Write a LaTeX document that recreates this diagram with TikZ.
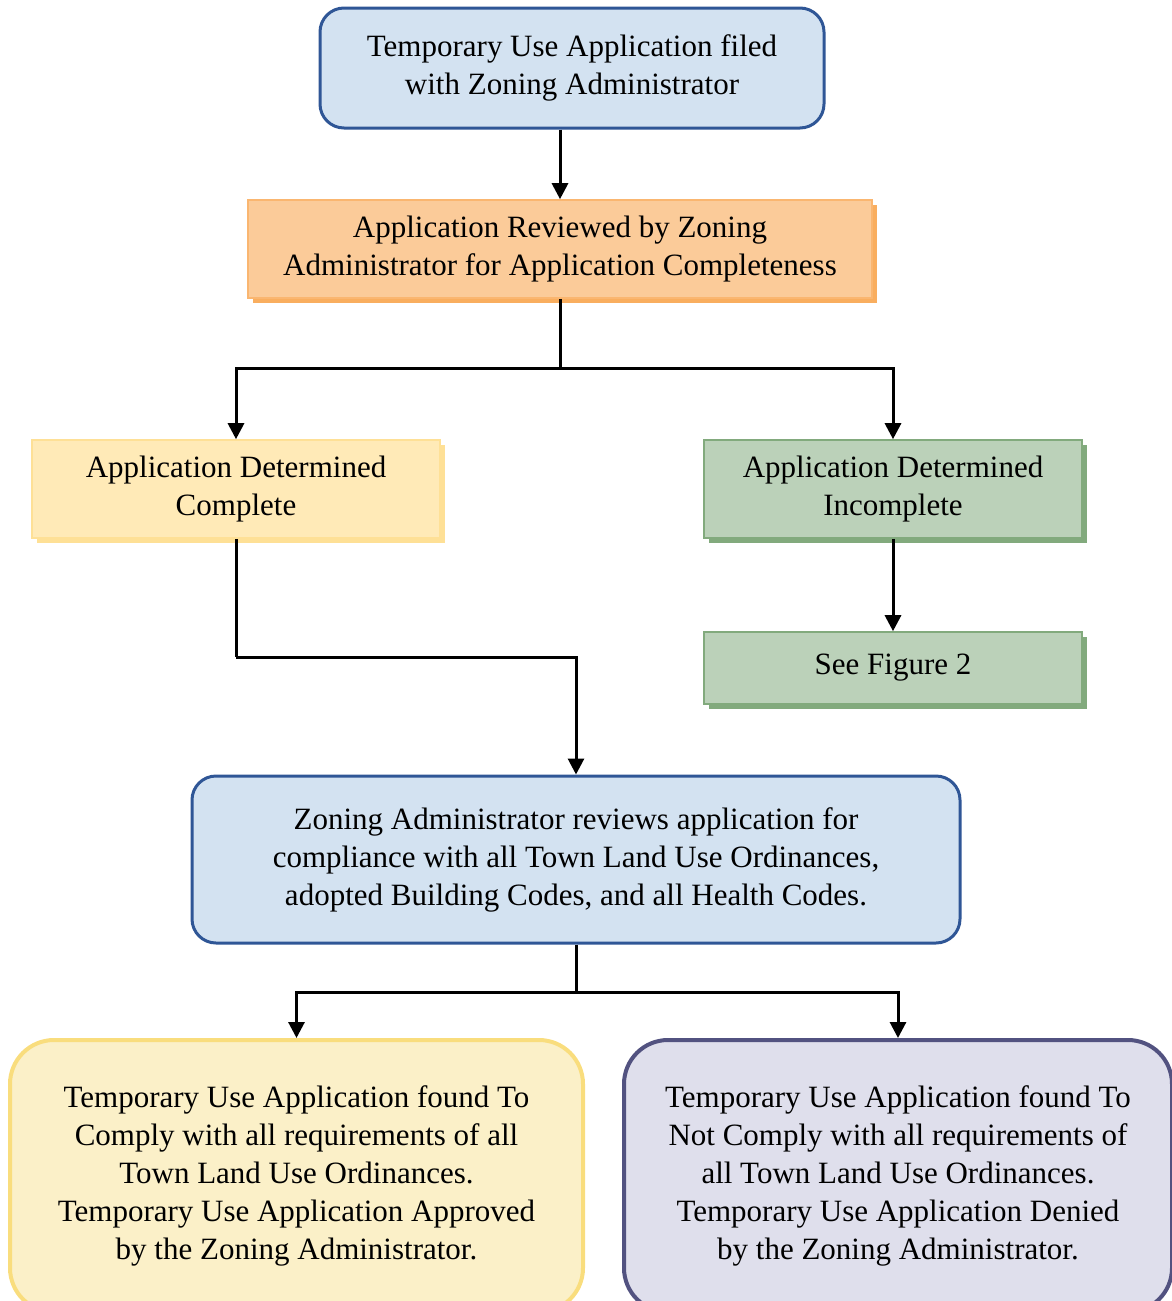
\documentclass[tikz,border=0pt]{standalone}
\usepackage{fontspec}
\setmainfont{Liberation Serif}
\usetikzlibrary{shadows,arrows.meta}

\definecolor{blueFill}{RGB}{211,226,241}
\definecolor{blueLine}{RGB}{47,86,150}
\definecolor{orangeFill}{RGB}{251,203,153}
\definecolor{orangeLine}{RGB}{250,182,112}
\definecolor{orangeShadow}{RGB}{249,174,95}
\definecolor{yellowFill}{RGB}{255,234,183}
\definecolor{yellowShadow}{RGB}{254,224,150}
\definecolor{greenFill}{RGB}{187,209,185}
\definecolor{greenShadow}{RGB}{130,170,125}
\definecolor{creamFill}{RGB}{251,240,200}
\definecolor{creamLine}{RGB}{249,221,125}
\definecolor{lavFill}{RGB}{223,223,236}
\definecolor{lavLine}{RGB}{82,82,128}

\tikzstyle{roundbox} = [draw, rounded corners=12pt, line width=1.5pt, align=center, text centered]
\tikzstyle{flatbox} = [draw, line width=0.8pt, align=center, text centered]
\tikzstyle{bluebox} = [roundbox, draw=blueLine, fill=blueFill]
\tikzstyle{orangebox} = [flatbox, draw=orangeLine, fill=orangeFill, drop shadow={shadow xshift=2.5pt, shadow yshift=-2.5pt, fill=orangeShadow, opacity=1}]
\tikzstyle{yellowbox} = [flatbox, draw=yellowShadow, fill=yellowFill, drop shadow={shadow xshift=2.5pt, shadow yshift=-2.5pt, fill=yellowShadow, opacity=1}]
\tikzstyle{greenbox} = [flatbox, draw=greenShadow, fill=greenFill, drop shadow={shadow xshift=2.5pt, shadow yshift=-2.5pt, fill=greenShadow, opacity=1}]
\tikzstyle{creambox} = [roundbox, rounded corners=22pt, line width=2pt, draw=creamLine, fill=creamFill]
\tikzstyle{lavbox} = [roundbox, rounded corners=22pt, line width=2pt, draw=lavLine, fill=lavFill]
\tikzstyle{line} = [line width=1.5pt]
\tikzstyle{arrow} = [line, -{Triangle[length=8pt, width=8pt]}]

\begin{document}
\begin{tikzpicture}[x=0.5pt, y=-0.5pt, font=\fontsize{15.5}{19}\selectfont]
\useasboundingbox (0,0) rectangle (1172,1301);
\clip (0,0) rectangle (1172,1301);

% Filing and completeness review
\node (filed) [bluebox, minimum width=252pt, minimum height=60pt] at (572,68) {Temporary Use Application filed\\with Zoning Administrator};
\node (reviewed) [orangebox, minimum width=312pt, minimum height=49pt] at (560,249) {Application Reviewed by Zoning\\Administrator for Application Completeness};

% Completeness outcome
\node (complete) [yellowbox, minimum width=204pt, minimum height=49pt] at (236,489) {Application Determined\\Complete};
\node (incomplete) [greenbox, minimum width=189pt, minimum height=49pt] at (893,489) {Application Determined\\Incomplete};
\node (figure2) [greenbox, minimum width=189pt, minimum height=36pt] at (893,668) {See Figure 2};

% Compliance review
\node (compliance) [bluebox, minimum width=384pt, minimum height=83.5pt] at (576,859.5) {Zoning Administrator reviews application for\\compliance with all Town Land Use Ordinances,\\adopted Building Codes, and all Health Codes.};

% Final decision
\node (approved) [creambox, minimum width=286.5pt, minimum height=136pt] at (296.5,1176) {Temporary Use Application found To\\Comply with all requirements of all\\Town Land Use Ordinances.\\Temporary Use Application Approved\\by the Zoning Administrator.};
\node (denied) [lavbox, minimum width=274pt, minimum height=136pt] at (898,1176) {Temporary Use Application found To\\Not Comply with all requirements of\\all Town Land Use Ordinances.\\Temporary Use Application Denied\\by the Zoning Administrator.};

% Arrows
\coordinate (fork1) at (560,368);
\coordinate (bend) at (236,657);
\coordinate (fork2) at (576,992);
\draw [arrow] (reviewed.north |- filed.south) -- (reviewed.north);
\draw [line] (reviewed.south) -- (fork1);
\draw [arrow] (fork1) -| (complete.north);
\draw [arrow] (fork1) -| (incomplete.north);
\draw [arrow] (incomplete) -- (figure2);
\draw [line] (complete.south) -- (bend);
\draw [arrow] (bend) -| (compliance.north);
\draw [line] (compliance.south) -- (fork2);
\draw [arrow] (fork2) -| (approved.north);
\draw [arrow] (fork2) -| (denied.north);

\end{tikzpicture}
\end{document}
